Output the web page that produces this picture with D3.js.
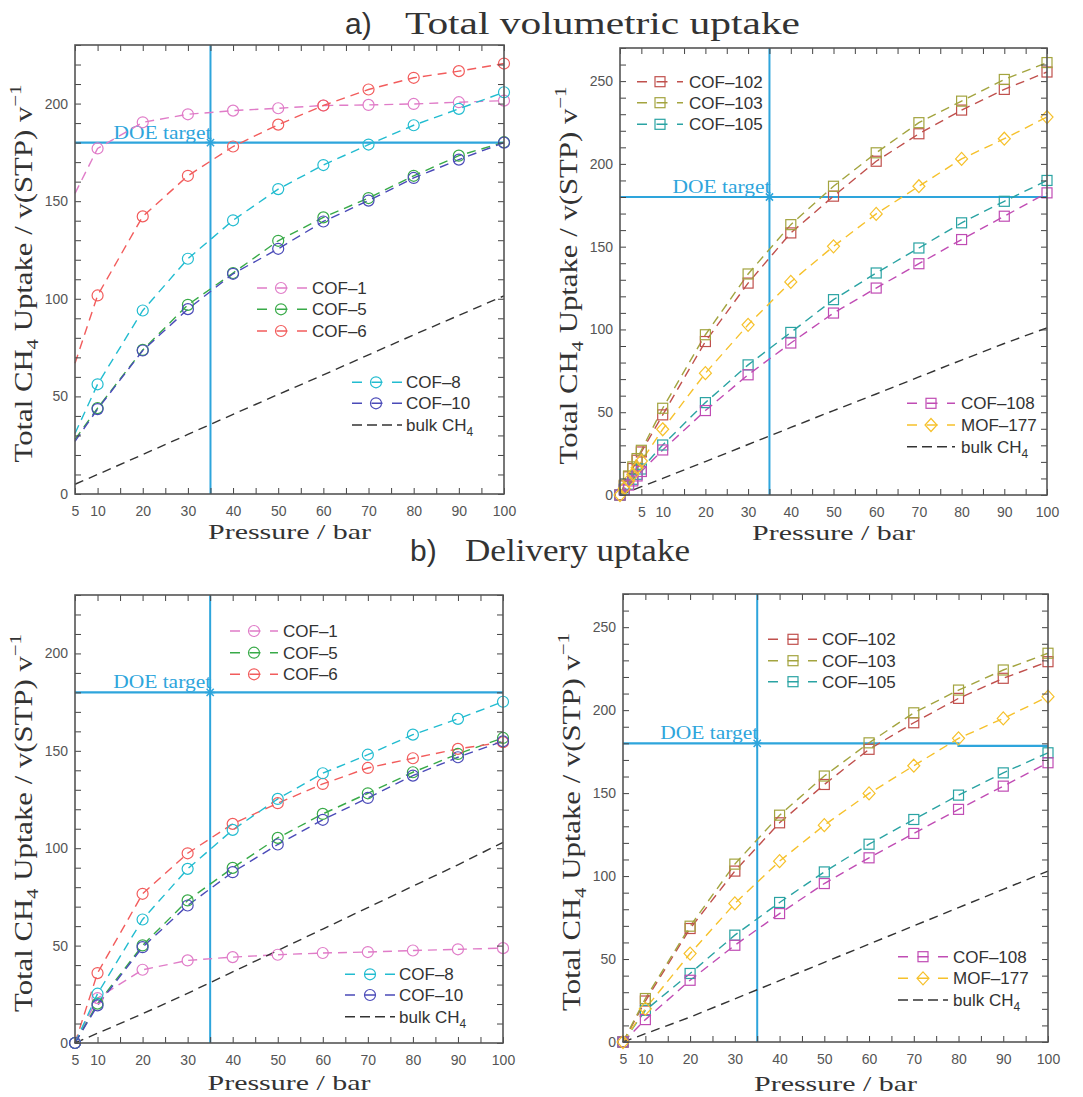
<!DOCTYPE html>
<html>
<head>
<meta charset="utf-8">
<script src="https://cdn.jsdelivr.net/npm/d3@7"></script>
<style>
body { margin: 0; background: #fff; }
svg { display: block; }
</style>
</head>
<body>
<svg id="chart" width="1083" height="1097"></svg>
<script>
// ---- data ----
var pressureTL = [5, 10, 20, 30, 40, 50, 60, 70, 80, 90, 100];
var totCOF1  = [154, 177, 190.4, 194.5, 196.4, 197.6, 199, 199.3, 199.8, 200.7, 201.5];
var totCOF5  = [28, 44, 73.8, 96.9, 113.2, 129.7, 141.7, 151.6, 163, 173.3, 180.2];
var totCOF6  = [67, 101.7, 142.2, 163, 178, 189.2, 199, 207.2, 213.2, 216.6, 220.5];
var totCOF8  = [31, 56.2, 94, 120.5, 140.2, 156.2, 168.5, 179, 188.9, 197.3, 205.8];
var totCOF10 = [27, 43.5, 73.5, 94.7, 112.8, 125.6, 139.6, 150.3, 161.9, 171.3, 180];
var totBulkL = [5, 10, 20.2, 30.5, 40.8, 51, 61, 71.3, 81.5, 91.5, 101.5];

var pressureTR = [0, 1, 2, 3, 4, 5, 10, 20, 30, 40, 50, 60, 70, 80, 90, 100];
var totCOF102 = [0, 5.5, 11, 16, 21, 26, 48.4, 92.7, 128, 158.3, 180.5, 201.6, 218.2, 232.5, 245, 255.5];
var totCOF103 = [0, 6, 11.5, 17, 22, 27, 52.4, 96.8, 133.5, 163.3, 186.5, 206.7, 224.9, 237.9, 251, 261.2];
var totCOF105 = [0, 3.5, 6.5, 9.5, 12.5, 15.7, 30.2, 55.8, 78.6, 98.2, 118, 134.1, 149.2, 164.4, 177.4, 190];
var totCOF108 = [0, 3, 6, 8.5, 11.5, 14.2, 27.2, 51, 72.6, 91.8, 109.9, 125, 139.7, 154.3, 168.4, 182.5];
var totMOF177 = [0, 4, 8.5, 12.5, 16.5, 20.5, 39.7, 73.6, 102.8, 128.7, 150.2, 169.8, 186.5, 203, 215.2, 228.3];
var totBulkR  = [0, 1, 2, 3, 4, 5, 10, 20.2, 30.5, 40.8, 51, 61, 71.3, 81.5, 91.5, 101];

var pressureB = [5, 10, 20, 30, 40, 50, 60, 70, 80, 90, 100];
var delCOF1  = [0, 23, 37.6, 42.4, 44.1, 45.3, 46.2, 46.7, 47.5, 48.1, 48.7];
var delCOF5  = [0, 20.2, 50.1, 73.2, 89.9, 105.3, 117.6, 128.2, 139, 148.4, 156.6];
var delCOF6  = [0, 35.9, 76.6, 97.4, 112.5, 123.1, 133, 141.2, 146.2, 151, 154.4];
var delCOF8  = [0, 25.3, 63.4, 89.4, 109.4, 125.3, 138.5, 148, 158.3, 166.4, 175.2];
var delCOF10 = [0, 19.3, 49.2, 70.6, 87.7, 101.9, 114.6, 125.8, 137.3, 146.7, 154.9];
var delBulkL = [0, 5, 15, 25.5, 36.5, 47.5, 58.5, 69.5, 80.5, 91.5, 103];

var delCOF102 = [0, 24.7, 68.4, 103, 132.1, 155.2, 176.4, 192.4, 207.1, 219.2, 229.2];
var delCOF103 = [0, 26.2, 69.8, 107.2, 136.7, 160.3, 180.3, 198.4, 212.1, 224.2, 234.3];
var delCOF105 = [0, 19.1, 41.3, 64.4, 84.1, 102.5, 119.2, 134.1, 148.8, 162.2, 174.3];
var delCOF108 = [0, 13.5, 37.2, 58.3, 77.4, 95.5, 111, 125.7, 140.2, 154.2, 168.3];
var delMOF177 = [0, 20.1, 53.3, 83.5, 109, 130.7, 149.8, 166.5, 183, 195, 208.1];
var delBulkR  = [0, 5, 15, 26, 37, 48, 59, 70, 81, 92, 103];

var doePressure = 35;
var doeLineTL = [[5, 180], [100, 180]];
var doeLineTR = [[0, 180], [100, 180]];
var doeLineBL = [[5, 180], [100, 180]];
var doeLineBR = [[5, 180], [80, 180], [80, 178.5], [100, 178.5]];

var xTickLabels = [5, 10, 20, 30, 40, 50, 60, 70, 80, 90, 100];
var yTickLabelsL = [0, 50, 100, 150, 200];
var yTickLabelsR = [0, 50, 100, 150, 200, 250];

// ---- styles ----
var serif = "'Liberation Serif','Times New Roman',serif";
var sans = "'Liberation Sans',Arial,sans-serif";
var blue = "#2ea5dc";
var col = {
	"COF-1": "#e07cc8", "COF-5": "#38aa48", "COF-6": "#f25c5c",
	"COF-8": "#22bcd0", "COF-10": "#4a4ab8", "bulk": "#333333",
	"COF-102": "#c0504d", "COF-103": "#a3a43f", "COF-105": "#2aa3a3",
	"COF-108": "#c04cb4", "MOF-177": "#f6c12b"
};

var svg = d3.select("#chart");

var panels = [
	{ left: 75, top: 45, right: 504, bottom: 494, xDomain: [5, 100], yDomain: [0, 230], yLabels: yTickLabelsL,
	  doeLine: doeLineTL, markerMin: 10, xTitleGap: 45,
	  series: [
		{ name: "COF-1", p: pressureTL, v: totCOF1, marker: "circle" },
		{ name: "COF-5", p: pressureTL, v: totCOF5, marker: "circle" },
		{ name: "COF-6", p: pressureTL, v: totCOF6, marker: "circle" },
		{ name: "COF-8", p: pressureTL, v: totCOF8, marker: "circle" },
		{ name: "COF-10", p: pressureTL, v: totCOF10, marker: "circle" },
		{ name: "bulk", p: pressureTL, v: totBulkL, marker: null }],
	  legends: [
		{ rows: [288, 309.3, 331], x0: 257, x1: 307, xm: 281, xt: 312, names: ["COF-1", "COF-5", "COF-6"] },
		{ rows: [382.3, 403.3, 425], x0: 352, x1: 402, xm: 376, xt: 406, names: ["COF-8", "COF-10", "bulk"] }] },
	{ left: 620, top: 48, right: 1047, bottom: 495, xDomain: [0, 100], yDomain: [0, 270], yLabels: yTickLabelsR,
	  doeLine: doeLineTR, markerMin: 0, xTitleGap: 45,
	  series: [
		{ name: "COF-102", p: pressureTR, v: totCOF102, marker: "square" },
		{ name: "COF-103", p: pressureTR, v: totCOF103, marker: "square" },
		{ name: "COF-105", p: pressureTR, v: totCOF105, marker: "square" },
		{ name: "COF-108", p: pressureTR, v: totCOF108, marker: "square" },
		{ name: "MOF-177", p: pressureTR, v: totMOF177, marker: "diamond" },
		{ name: "bulk", p: pressureTR, v: totBulkR, marker: null }],
	  legends: [
		{ rows: [81.7, 102.7, 124.3], x0: 637, x1: 683, xm: 660, xt: 689, names: ["COF-102", "COF-103", "COF-105"] },
		{ rows: [403.3, 425, 446.7], x0: 907, x1: 955, xm: 931, xt: 961, names: ["COF-108", "MOF-177", "bulk"] }] },
	{ left: 75, top: 595, right: 503, bottom: 1043, xDomain: [5, 100], yDomain: [0, 230], yLabels: yTickLabelsL,
	  doeLine: doeLineBL, markerMin: 0, xTitleGap: 47,
	  series: [
		{ name: "COF-1", p: pressureB, v: delCOF1, marker: "circle" },
		{ name: "COF-5", p: pressureB, v: delCOF5, marker: "circle" },
		{ name: "COF-6", p: pressureB, v: delCOF6, marker: "circle" },
		{ name: "COF-8", p: pressureB, v: delCOF8, marker: "circle" },
		{ name: "COF-10", p: pressureB, v: delCOF10, marker: "circle" },
		{ name: "bulk", p: pressureB, v: delBulkL, marker: null }],
	  legends: [
		{ rows: [631, 652.7, 674.3], x0: 230, x1: 278, xm: 254, xt: 283, names: ["COF-1", "COF-5", "COF-6"] },
		{ rows: [974.3, 995, 1016.7], x0: 345, x1: 395, xm: 370, xt: 399, names: ["COF-8", "COF-10", "bulk"] }] },
	{ left: 623, top: 594, right: 1048, bottom: 1042, xDomain: [5, 100], yDomain: [0, 270], yLabels: yTickLabelsR,
	  doeLine: doeLineBR, markerMin: 0, xTitleGap: 49,
	  series: [
		{ name: "COF-102", p: pressureB, v: delCOF102, marker: "square" },
		{ name: "COF-103", p: pressureB, v: delCOF103, marker: "square" },
		{ name: "COF-105", p: pressureB, v: delCOF105, marker: "square" },
		{ name: "COF-108", p: pressureB, v: delCOF108, marker: "square" },
		{ name: "MOF-177", p: pressureB, v: delMOF177, marker: "diamond" },
		{ name: "bulk", p: pressureB, v: delBulkR, marker: null }],
	  legends: [
		{ rows: [639.3, 660.7, 681.7], x0: 768, x1: 817, xm: 793, xt: 822, names: ["COF-102", "COF-103", "COF-105"] },
		{ rows: [956.7, 978.3, 1000], x0: 898, x1: 948, xm: 923, xt: 953, names: ["COF-108", "MOF-177", "bulk"] }] }
];

function drawMarker(g, type, cx, cy, color) {
	if (type === "circle") {
		g.append("circle").attr("cx", cx).attr("cy", cy).attr("r", 5.5)
			.attr("fill", "none").attr("stroke", color).attr("stroke-width", 1.2);
	} else if (type === "square") {
		g.append("rect").attr("x", cx - 5).attr("y", cy - 5).attr("width", 10).attr("height", 10)
			.attr("fill", "none").attr("stroke", color).attr("stroke-width", 1.2);
	} else if (type === "diamond") {
		g.append("path").attr("d", "M" + cx + "," + (cy - 6.5) + "L" + (cx + 6) + "," + cy + "L" + cx + "," + (cy + 6.5) + "L" + (cx - 6) + "," + cy + "Z")
			.attr("fill", "none").attr("stroke", color).attr("stroke-width", 1.2);
	}
}

function seriesLabel(sel, name) {
	if (name === "bulk") {
		sel.text("bulk CH");
		sel.append("tspan").attr("dy", 5).attr("font-size", 12).text("4");
	} else {
		sel.text(name.replace("-", "\u2013"));
	}
}

panels.forEach(function (pn) {
	var x = d3.scaleLinear().domain(pn.xDomain).range([pn.left, pn.right]);
	var y = d3.scaleLinear().domain(pn.yDomain).range([pn.bottom, pn.top]);
	var g = svg.append("g");

	// DOE target lines
	var line = d3.line().x(function (d) { return x(d[0]); }).y(function (d) { return y(d[1]); });
	g.append("path").datum(pn.doeLine).attr("d", line)
		.attr("fill", "none").attr("stroke", blue).attr("stroke-width", 2.2);
	g.append("line").attr("x1", x(doePressure)).attr("x2", x(doePressure))
		.attr("y1", y(pn.yDomain[0])).attr("y2", y(pn.yDomain[1]))
		.attr("stroke", blue).attr("stroke-width", 2);
	var sx = x(doePressure), sy = y(180), s = 5;
	g.append("path")
		.attr("d", "M" + (sx - s) + "," + sy + "h" + (2 * s) + "M" + sx + "," + (sy - s) + "v" + (2 * s) +
			"M" + (sx - 3.6) + "," + (sy - 3.6) + "l7.2,7.2M" + (sx - 3.6) + "," + (sy + 3.6) + "l7.2,-7.2")
		.attr("stroke", blue).attr("stroke-width", 1.5);
	g.append("text").attr("x", sx + 1).attr("y", sy - 4)
		.attr("text-anchor", "end").attr("font-family", serif).attr("font-size", 18)
		.attr("textLength", 98).attr("lengthAdjust", "spacingAndGlyphs")
		.attr("fill", blue).text("DOE target");

	// series
	pn.series.forEach(function (s) {
		var pts = s.p.map(function (p, i) { return [p, s.v[i]]; });
		g.append("path").datum(pts).attr("d", line)
			.attr("fill", "none").attr("stroke", col[s.name])
			.attr("stroke-width", 1.4).attr("stroke-dasharray", "9,6");
	});
	pn.series.forEach(function (s) {
		if (!s.marker) return;
		s.p.forEach(function (p, i) {
			if (p < pn.markerMin) return;
			drawMarker(g, s.marker, x(p), y(s.v[i]), col[s.name]);
		});
	});

	// axes with inward ticks
	var xt = d3.range(pn.xDomain[0], pn.xDomain[1] + 0.1, 5);
	var yt = d3.range(pn.yDomain[0], pn.yDomain[1] + 0.1, 10);
	var fx = function (d) { return xTickLabels.indexOf(d) >= 0 ? d : ""; };
	var fy = function (d) { return pn.yLabels.indexOf(d) >= 0 ? d : ""; };
	var axes = [
		g.append("g").attr("transform", "translate(0," + pn.bottom + ")")
			.call(d3.axisBottom(x).tickValues(xt).tickSize(-6).tickPadding(12).tickFormat(fx)),
		g.append("g").attr("transform", "translate(0," + pn.top + ")")
			.call(d3.axisTop(x).tickValues(xt).tickSize(-6).tickFormat("")),
		g.append("g").attr("transform", "translate(" + pn.left + ",0)")
			.call(d3.axisLeft(y).tickValues(yt).tickSize(-6).tickPadding(7).tickFormat(fy)),
		g.append("g").attr("transform", "translate(" + pn.right + ",0)")
			.call(d3.axisRight(y).tickValues(yt).tickSize(-6).tickFormat(""))
	];
	axes.forEach(function (a) {
		a.select(".domain").remove();
		a.attr("font-family", sans).attr("font-size", 14);
		a.selectAll(".tick line").attr("stroke", "#444");
		a.selectAll(".tick text").attr("fill", "#555");
	});
	g.append("rect").attr("x", pn.left).attr("y", pn.top)
		.attr("width", pn.right - pn.left).attr("height", pn.bottom - pn.top)
		.attr("fill", "none").attr("stroke", "#555").attr("stroke-width", 1.6);

	// legends
	pn.legends.forEach(function (lg) {
		lg.names.forEach(function (name, i) {
			var s = pn.series.filter(function (d) { return d.name === name; })[0];
			var ly = lg.rows[i];
			g.append("line").attr("x1", lg.x0).attr("x2", lg.x1).attr("y1", ly).attr("y2", ly)
				.attr("stroke", col[name]).attr("stroke-width", 1.4)
				.attr("stroke-dasharray", s.marker ? "10,9.5,11,9.5,10" : "10,5");
			if (s.marker) drawMarker(g, s.marker, lg.xm, ly, col[name]);
			g.append("text").attr("x", lg.xt).attr("y", ly).attr("dy", "0.36em")
				.attr("font-family", sans).attr("font-size", 17).attr("fill", "#333")
				.call(seriesLabel, name);
		});
	});

	// axis titles
	g.append("text").attr("x", (pn.left + pn.right) / 2).attr("y", pn.bottom + pn.xTitleGap)
		.attr("text-anchor", "middle").attr("font-family", serif).attr("font-size", 21)
		.attr("textLength", 163).attr("lengthAdjust", "spacingAndGlyphs")
		.attr("fill", "#333").text("Pressure / bar");
	var yc = (pn.top + pn.bottom) / 2 + 4;
	var yl = g.append("text")
		.attr("transform", "translate(" + (pn.left - 43) + "," + yc + ") rotate(-90)")
		.attr("text-anchor", "middle").attr("font-family", serif).attr("font-size", 25)
		.attr("textLength", 378).attr("lengthAdjust", "spacingAndGlyphs")
		.attr("fill", "#333");
	yl.append("tspan").text("Total CH");
	yl.append("tspan").attr("dy", 6).attr("font-size", 17).text("4");
	yl.append("tspan").attr("dy", -6).text(" Uptake / v(STP) v");
	yl.append("tspan").attr("dy", -11).attr("font-size", 17).text("\u22121");
});

// panel-row titles
function rowTitle(tag, title, xTag, xTitle, xEnd, base) {
	svg.append("text").attr("x", xTag).attr("y", base).attr("font-family", sans)
		.attr("font-size", 30).attr("fill", "#333").text(tag);
	svg.append("text").attr("x", xTitle).attr("y", base).attr("font-family", serif)
		.attr("font-size", 31).attr("fill", "#333")
		.attr("textLength", xEnd - xTitle).attr("lengthAdjust", "spacingAndGlyphs").text(title);
}
rowTitle("a)", "Total volumetric uptake", 345, 405, 800, 34);
rowTitle("b)", "Delivery uptake", 410, 465, 690, 561);
</script>
</body>
</html>
